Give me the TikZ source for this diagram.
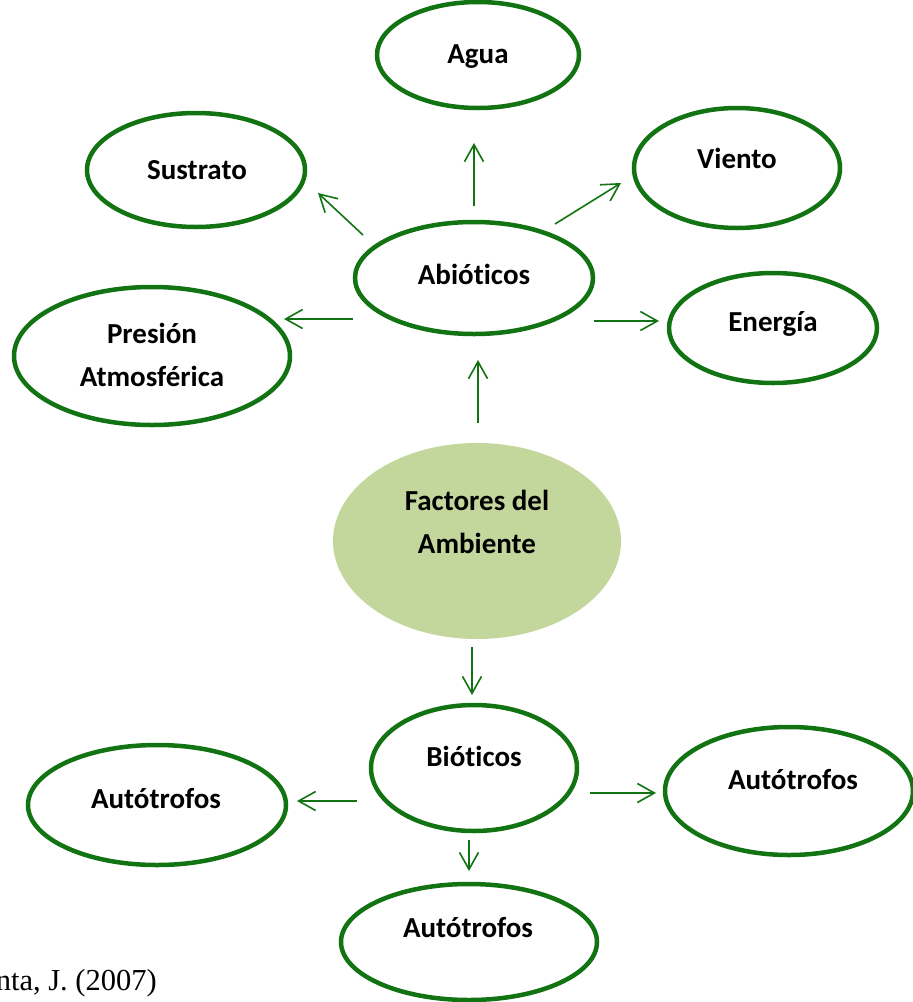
\documentclass[tikz,border=0pt]{standalone}
\usepackage{fontspec}
\setmainfont[Ligatures=NoCommon]{Carlito}
\newfontfamily\timesfont{Liberation Serif}
\usetikzlibrary{shapes.geometric,arrows.meta}
\definecolor{dkgreen}{HTML}{127312}
\definecolor{olivefill}{HTML}{C3D69B}
\tikzset{
  ell/.style={ellipse, draw=dkgreen, line width=4.5pt, fill=white, inner sep=0pt},
  lbl/.style={font=\fontsize{29}{43}\selectfont\bfseries, align=center, inner sep=0pt},
  arr/.style={draw=dkgreen, line width=1.6pt, -{Straight Barb[length=17pt,width=19pt]}},
}
\begin{document}
\begin{tikzpicture}[x=1pt,y=-1pt]
\useasboundingbox (0,0) rectangle (913,1002);
% ellipses
\node[ell, minimum width=202pt, minimum height=106pt] (agua) at (478,55) {};
\node[ell, minimum width=218pt, minimum height=114pt] (sustrato) at (196,170) {};
\node[ell, minimum width=206pt, minimum height=120pt] (viento) at (737,168) {};
\node[ell, minimum width=238pt, minimum height=112pt] (abio) at (474,278) {};
\node[ell, minimum width=276pt, minimum height=138pt] (presion) at (152,356) {};
\node[ell, minimum width=208pt, minimum height=110pt] (energia) at (773,328) {};
\node[ellipse, fill=olivefill, draw=none, minimum width=288pt, minimum height=196pt] (factores) at (477,541) {};
\node[ell, minimum width=206pt, minimum height=126pt] (bio) at (474,768) {};
\node[ell, minimum width=258pt, minimum height=120pt] (autoL) at (157,805) {};
\node[ell, minimum width=248pt, minimum height=128pt] (autoR) at (789,791) {};
\node[ell, minimum width=256pt, minimum height=116pt] (autoB) at (469,942) {};
% labels
\node[lbl] (tagua) at (478,57) {Agua};
\node[lbl] (tsustrato) at (197,170) {Sustrato};
\node[lbl] (tviento) at (737,158) {Viento};
\node[lbl] (tabio) at (474,274) {Abióticos};
\node[lbl] (tpresion) at (152,355) {Presión\\Atmosférica};
\node[lbl] (tenergia) at (773,324) {Energía};
\node[lbl] (tfactores) at (477,522) {Factores del\\Ambiente};
\node[lbl] (tbio) at (474,756) {Bióticos};
\node[lbl] (tautoL) at (156,799) {Autótrofos};
\node[lbl] (tautoR) at (793,780) {Autótrofos};
\node[lbl] (tautoB) at (468,928) {Autótrofos};
% arrow end points
\coordinate (a1s) at (474,206); \coordinate (a1e) at (474,143);
\coordinate (a2s) at (363,235); \coordinate (a2e) at (318,193);
\coordinate (a3s) at (555,224); \coordinate (a3e) at (621,183);
\coordinate (a4s) at (353,319); \coordinate (a4e) at (284,319);
\coordinate (a5s) at (594,321); \coordinate (a5e) at (659,321);
\coordinate (a6s) at (478,423); \coordinate (a6e) at (478,360);
\coordinate (a7s) at (472,647); \coordinate (a7e) at (472,695);
\coordinate (a8s) at (357,801); \coordinate (a8e) at (297,801);
\coordinate (a9s) at (590,793); \coordinate (a9e) at (656,793);
\coordinate (a10s) at (469,840); \coordinate (a10e) at (469,871);
\foreach \i in {1,...,10} { \draw[arr] (a\i s) -- (a\i e); }
% citation
\node[anchor=base east, inner sep=0pt, font=\timesfont\fontsize{30.5}{34}\selectfont] (cita) at (157,990) {nta, J. (2007)};
\end{tikzpicture}
\end{document}
